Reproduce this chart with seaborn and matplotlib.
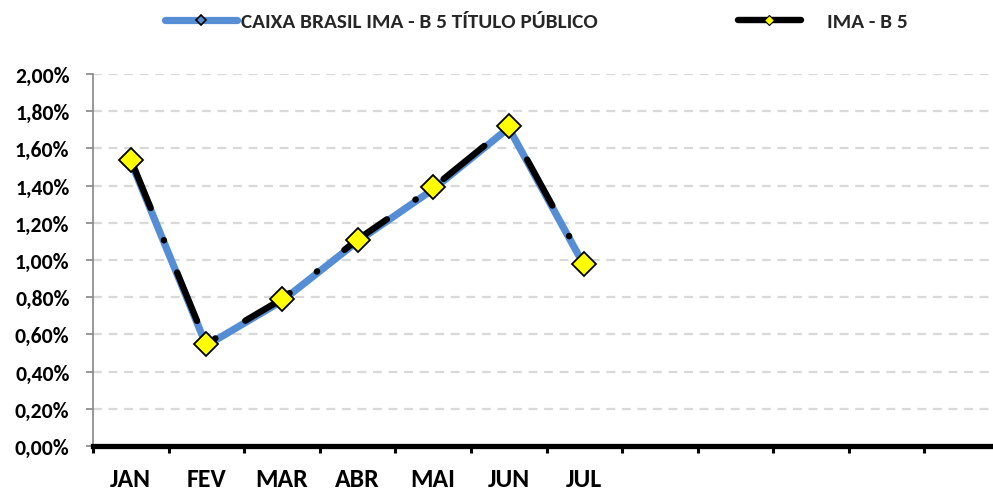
import matplotlib
matplotlib.use("Agg")
import matplotlib.pyplot as plt
from matplotlib.lines import Line2D
from matplotlib import font_manager
import seaborn as sns
import pandas as pd

# ---- data ----
months = ["JAN", "FEV", "MAR", "ABR", "MAI", "JUN", "JUL"]
slot_labels = ["JAN", "FEV", "MAR", "ABR", "MAI", "JUN", "JUL", "", "", "", "", ""]
caixa = [1.53, 0.54, 0.78, 1.10, 1.38, 1.71, 0.97]
ima_b5 = [1.54, 0.55, 0.79, 1.11, 1.39, 1.72, 0.98]
y_ticks = [0.0, 0.2, 0.4, 0.6, 0.8, 1.0, 1.2, 1.4, 1.6, 1.8, 2.0]
series_names = ["CAIXA BRASIL IMA - B 5 TÍTULO PÚBLICO", "IMA - B 5"]

sns.set_theme(style="white")
avail = {f.name for f in font_manager.fontManager.ttflist}
if "Carlito" in avail:
    FAM = ["Carlito", "DejaVu Sans"]
    FS_T, FS_X, FS_L = 15.6, 18.5, 15.3
else:
    FAM = ["Lato", "DejaVu Sans"]
    FS_T, FS_X, FS_L = 16, 18, 13.5
plt.rcParams["font.family"] = FAM
plt.rcParams["font.weight"] = "bold"

df = pd.DataFrame({"pos": list(range(len(months))), "caixa": caixa, "ima": ima_b5})

fig = plt.figure(figsize=(9.93, 4.89), dpi=100)
ax = fig.add_axes([93 / 993, 1 - 447 / 489, (1000 - 93) / 993, (447 - 75) / 489])

blue = "#558ED5"
lw_blue = 5.2
lw_black = 4.6

sns.lineplot(data=df, x="pos", y="caixa", ax=ax, color=blue, linewidth=lw_blue,
             solid_capstyle="round", solid_joinstyle="miter", legend=False, zorder=3)
sns.lineplot(data=df, x="pos", y="ima", ax=ax, color="black", linewidth=lw_black,
             linestyle=(0, (8.2, 5.43, 0.05, 5.43)), dash_capstyle="round",
             marker="D", markersize=12, markerfacecolor="#FFFF00",
             markeredgecolor="black", markeredgewidth=1.3, legend=False, zorder=4)

ax.set_xlim(-0.5, len(slot_labels) - 0.5)
ax.set_ylim(0, 2.0)
ax.set_xlabel("")
ax.set_ylabel("")

# y axis
ax.set_yticks(y_ticks)
ax.set_yticklabels([f"{v:.2f}%".replace(".", ",") for v in y_ticks],
                   fontsize=FS_T, fontweight="bold", color="black")
ax.tick_params(axis="y", which="major", direction="out", length=5, width=1.2,
               color="#868686", pad=12, left=True)
ax.yaxis.grid(True, color="#D9D9D9", linestyle=(0, (4, 3)), linewidth=1.6)
ax.set_axisbelow(True)

# x axis: boundary ticks (major), centred labels (minor)
ax.set_xticks([i - 0.5 for i in range(len(slot_labels) + 1)])
ax.set_xticklabels([])
ax.set_xticks(list(range(len(slot_labels))), minor=True)
ax.set_xticklabels(slot_labels, minor=True, fontsize=FS_X, fontweight="bold", color="black")
ax.tick_params(axis="x", which="major", direction="out", length=5, width=2.2,
               color="black", bottom=True)
ax.tick_params(axis="x", which="minor", length=0, pad=15, bottom=True)

for s in ["top", "right"]:
    ax.spines[s].set_visible(False)
ax.spines["left"].set_color("#868686")
ax.spines["left"].set_linewidth(1.2)
ax.spines["bottom"].set_color("black")
ax.spines["bottom"].set_linewidth(3.8)
ax.spines["bottom"].set_zorder(5)

# legends
h1 = Line2D([], [], color=blue, linewidth=lw_blue, solid_capstyle="round",
            marker="D", markersize=5, markerfacecolor=blue, markeredgecolor="black",
            markeredgewidth=1.2)
h2 = Line2D([], [], color="black", linewidth=lw_black, solid_capstyle="round",
            marker="D", markersize=5, markerfacecolor="#FFFF00", markeredgecolor="black",
            markeredgewidth=0.8)
prop = {"family": FAM, "weight": "bold", "size": FS_L}
leg1 = fig.legend([h1], [series_names[0]], loc="center left",
                  bbox_to_anchor=(165 / 993, 1 - 22 / 489), frameon=False,
                  handlelength=52 / FS_L, handletextpad=3 / FS_L, borderpad=0, borderaxespad=0,
                  prop=prop)
leg2 = fig.legend([h2], [series_names[1]], loc="center left",
                  bbox_to_anchor=(738 / 993, 1 - 22 / 489), frameon=False,
                  handlelength=45 / FS_L, handletextpad=19 / FS_L, borderpad=0, borderaxespad=0,
                  prop=prop)

fig.savefig("out.png", dpi=100)
